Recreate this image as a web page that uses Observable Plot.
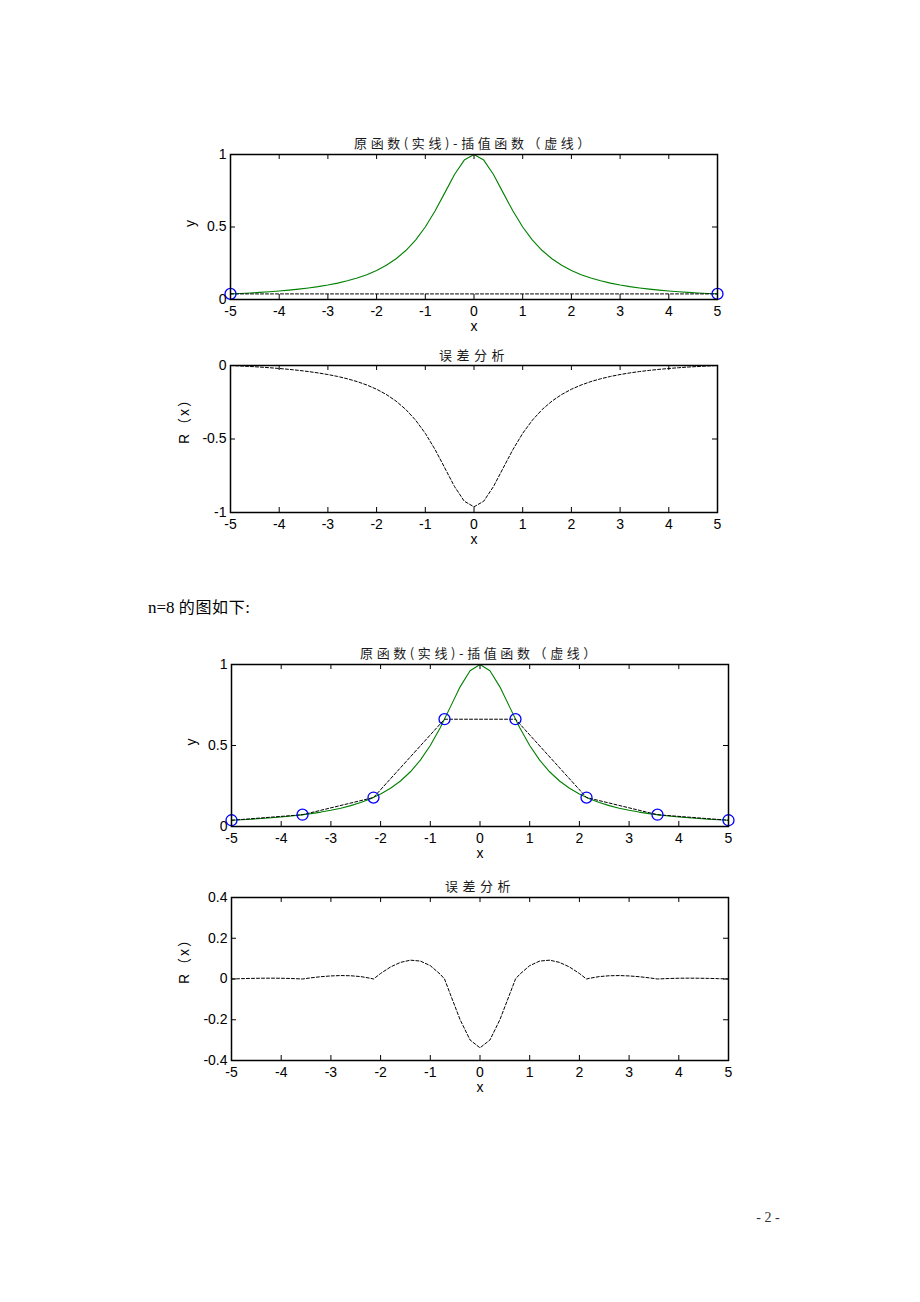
<!DOCTYPE html>
<html><head><meta charset="utf-8">
<script src="https://cdn.jsdelivr.net/npm/d3@7"></script>
<script src="https://cdn.jsdelivr.net/npm/@observablehq/plot@0.6"></script>
<style>
body{margin:0;background:#fff;}
#page{position:relative;width:920px;height:1302px;background:#fff;overflow:hidden;}
.panel{position:absolute;left:0;}
.para{position:absolute;left:148px;top:598px;font-size:17px;line-height:17px;font-family:"Liberation Serif","Times New Roman","Noto Sans CJK SC",serif;color:#000;white-space:nowrap;}
.para .cjk{font-family:"Noto Sans CJK SC",sans-serif;font-size:16px;letter-spacing:0.6px;}
.pageno{position:absolute;left:744px;top:1210px;width:48px;text-align:center;font-size:14px;line-height:16px;font-family:"Liberation Serif","Times New Roman",serif;color:#333;}
</style></head>
<body><div id="page"></div>
<script>
// ---- data ----
const xTicks = [-5,-4,-3,-2,-1,0,1,2,3,4,5];
const yTicks1 = [0, 0.5, 1];
const yTicks2 = [-1, -0.5, 0];
const yTicks4 = [-0.4, -0.2, 0, 0.2, 0.4];

const xGrid = [-5,-4.8,-4.6,-4.4,-4.2,-4,-3.8,-3.6,-3.4,-3.2,-3,-2.8,-2.6,-2.4,-2.2,-2,-1.8,-1.6,-1.4,-1.2,-1,-0.8,-0.6,-0.4,-0.2,0,
  0.2,0.4,0.6,0.8,1,1.2,1.4,1.6,1.8,2,2.2,2.4,2.6,2.8,3,3.2,3.4,3.6,3.8,4,4.2,4.4,4.6,4.8,5];
// original function (solid green)
const fVals = [0.0385,0.0416,0.0451,0.0491,0.0536,0.0588,0.0648,0.0716,0.0796,0.0890,0.1,0.1131,0.1289,0.1479,0.1712,0.2,0.2358,0.2809,0.3378,0.4098,0.5,0.6098,0.7353,0.8621,0.9615,1,
  0.9615,0.8621,0.7353,0.6098,0.5,0.4098,0.3378,0.2809,0.2358,0.2,0.1712,0.1479,0.1289,0.1131,0.1,0.0890,0.0796,0.0716,0.0648,0.0588,0.0536,0.0491,0.0451,0.0416,0.0385];

// n = 1: nodes and error
const xNodes1 = [-5, 5];
const yNodes1 = [0.0385, 0.0385];
const rVals1 = [0,-0.0031,-0.0066,-0.0106,-0.0151,-0.0203,-0.0263,-0.0331,-0.0411,-0.0505,-0.0615,-0.0746,-0.0904,-0.1094,-0.1327,-0.1615,-0.1973,-0.2424,-0.2993,-0.3713,-0.4615,-0.5713,-0.6968,-0.8236,-0.9230,-0.9615,
  -0.9230,-0.8236,-0.6968,-0.5713,-0.4615,-0.3713,-0.2993,-0.2424,-0.1973,-0.1615,-0.1327,-0.1094,-0.0904,-0.0746,-0.0615,-0.0505,-0.0411,-0.0331,-0.0263,-0.0203,-0.0151,-0.0106,-0.0066,-0.0031,0];

// n = 8: nodes and error
const xNodes8 = [-5,-3.571,-2.143,-0.714,0.714,2.143,3.571,5];
const yNodes8 = [0.0385,0.0727,0.1788,0.6622,0.6622,0.1788,0.0727,0.0385];
const xErr8 = [-5,-4.8,-4.6,-4.4,-4.2,-4,-3.8,-3.6,-3.571,-3.4,-3.2,-3,-2.8,-2.6,-2.4,-2.2,-2.143,-2,-1.8,-1.6,-1.4,-1.2,-1,-0.8,-0.714,-0.6,-0.4,-0.2,0,
  0.2,0.4,0.6,0.714,0.8,1,1.2,1.4,1.6,1.8,2,2.143,2.2,2.4,2.6,2.8,3,3.2,3.4,3.571,3.6,3.8,4,4.2,4.4,4.6,4.8,5];
const rVals8 = [0,0.0017,0.0030,0.0038,0.0041,0.0037,0.0024,0.0004,0,0.0058,0.0113,0.0151,0.0169,0.0159,0.0118,0.0034,0,0.0271,0.0590,0.0816,0.0924,0.0880,0.0655,0.0234,0,-0.0731,-0.1999,-0.2993,-0.3378,
  -0.2993,-0.1999,-0.0731,0,0.0234,0.0655,0.0880,0.0924,0.0816,0.0590,0.0271,0,0.0034,0.0118,0.0159,0.0169,0.0151,0.0113,0.0058,0,0.0004,0.0024,0.0037,0.0041,0.0038,0.0030,0.0017,0];

const titleTop = "原函数(实线)-插值函数（虚线）";
const titleErr = "误差分析";
const labelY = "y";
const labelR = "R（x）";
const labelX = "x";

// ---- drawing ----
const page = document.getElementById("page");
const GREEN = "#008000", BLUE = "#0000ff";
const dashed = {stroke: "#000", strokeWidth: 1, strokeDasharray: "3,2"};

function panel({x0, x1, y0, y1, ydomain, yticks, title, titleDy, ylabel, ylabelDx, ylabelDy, marks, spacing}) {
  const mt = 30, mb = 45;
  const innerH = y1 - y0, innerW = x1 - x0;
  const svg = Plot.plot({
    width: 920, height: mt + innerH + mb,
    marginTop: mt, marginBottom: mb, marginLeft: x0, marginRight: 920 - x1,
    x: {domain: [-5, 5]},
    y: {domain: ydomain},
    style: {background: "none", overflow: "visible", fontFamily: "'Liberation Sans', Arial, 'Noto Sans CJK SC', sans-serif", fontSize: "14px", color: "#000"},
    marks: [
      ...marks,
      Plot.ruleX(xTicks, {x: d => d, insetTop: innerH - 5, stroke: "#000"}),
      Plot.ruleX(xTicks, {x: d => d, insetBottom: innerH - 5, stroke: "#000"}),
      Plot.ruleY(yticks, {y: d => d, insetLeft: innerW - 5, stroke: "#000"}),
      Plot.ruleY(yticks, {y: d => d, insetRight: innerW - 5, stroke: "#000"}),
      Plot.frame({stroke: "#000", strokeWidth: 1.5}),
      Plot.axisX(xTicks, {tickSize: 0, tickPadding: 7, tickFormat: d => String(d), label: null}),
      Plot.axisY(yticks, {tickSize: 0, tickPadding: 4, tickFormat: d => String(d), label: null}),
      Plot.text([labelX], {frameAnchor: "bottom", dy: 31, text: d => d, fontSize: 14}),
      Plot.text([ylabel], {frameAnchor: "left", dx: ylabelDx, dy: ylabelDy || 0, rotate: -90, text: d => d, fontSize: 14}),
      Plot.text([title], {frameAnchor: "top", dy: titleDy, text: d => d, fontSize: 13, fontFamily: "'Noto Sans CJK SC', sans-serif", fill: "#1a1a1a"})
    ]
  });
  d3.select(svg).selectAll("text").filter(function() { return this.textContent === title; })
    .attr("letter-spacing", spacing + "px");
  d3.select(svg).selectAll("text").filter(function() { return this.textContent === labelR; })
    .attr("letter-spacing", "2px");
  const wrap = document.createElement("div");
  wrap.className = "panel";
  wrap.style.top = (y0 - mt) + "px";
  wrap.appendChild(svg);
  page.appendChild(wrap);
}

panel({x0: 230, x1: 717, y0: 154, y1: 299, ydomain: [0, 1], yticks: yTicks1,
  title: titleTop, titleDy: -16, ylabel: labelY, ylabelDx: -40, spacing: 3.6,
  marks: [
    Plot.line(fVals, {x: xGrid, y: fVals, stroke: GREEN, strokeWidth: 1.1}),
    Plot.line(yNodes1, {x: xNodes1, y: yNodes1, ...dashed}),
    Plot.dot(yNodes1, {x: xNodes1, y: yNodes1, r: 5.5, stroke: BLUE, strokeWidth: 1.3, fill: "none"})
  ]});

panel({x0: 230, x1: 717, y0: 365, y1: 512, ydomain: [-1, 0], yticks: yTicks2,
  title: titleErr, titleDy: -15, ylabel: labelR, ylabelDx: -46, ylabelDy: 5, spacing: 4.5,
  marks: [
    Plot.line(rVals1, {x: xGrid, y: rVals1, ...dashed})
  ]});

panel({x0: 231, x1: 728, y0: 664, y1: 826, ydomain: [0, 1], yticks: yTicks1,
  title: titleTop, titleDy: -16, ylabel: labelY, ylabelDx: -40, spacing: 3.6,
  marks: [
    Plot.line(fVals, {x: xGrid, y: fVals, stroke: GREEN, strokeWidth: 1.1}),
    Plot.line(yNodes8, {x: xNodes8, y: yNodes8, ...dashed}),
    Plot.dot(yNodes8, {x: xNodes8, y: yNodes8, r: 5.5, stroke: BLUE, strokeWidth: 1.3, fill: "none"})
  ]});

panel({x0: 231, x1: 728, y0: 897, y1: 1060, ydomain: [-0.4, 0.4], yticks: yTicks4,
  title: titleErr, titleDy: -16, ylabel: labelR, ylabelDx: -47, ylabelDy: 5, spacing: 4.5,
  marks: [
    Plot.line(rVals8, {x: xErr8, y: rVals8, ...dashed})
  ]});

const para = document.createElement("div");
para.className = "para";
para.innerHTML = 'n=8 <span class="cjk">的图如下</span>:';
page.appendChild(para);

const pn = document.createElement("div");
pn.className = "pageno";
pn.textContent = "- 2 -";
page.appendChild(pn);
</script>
</body></html>
